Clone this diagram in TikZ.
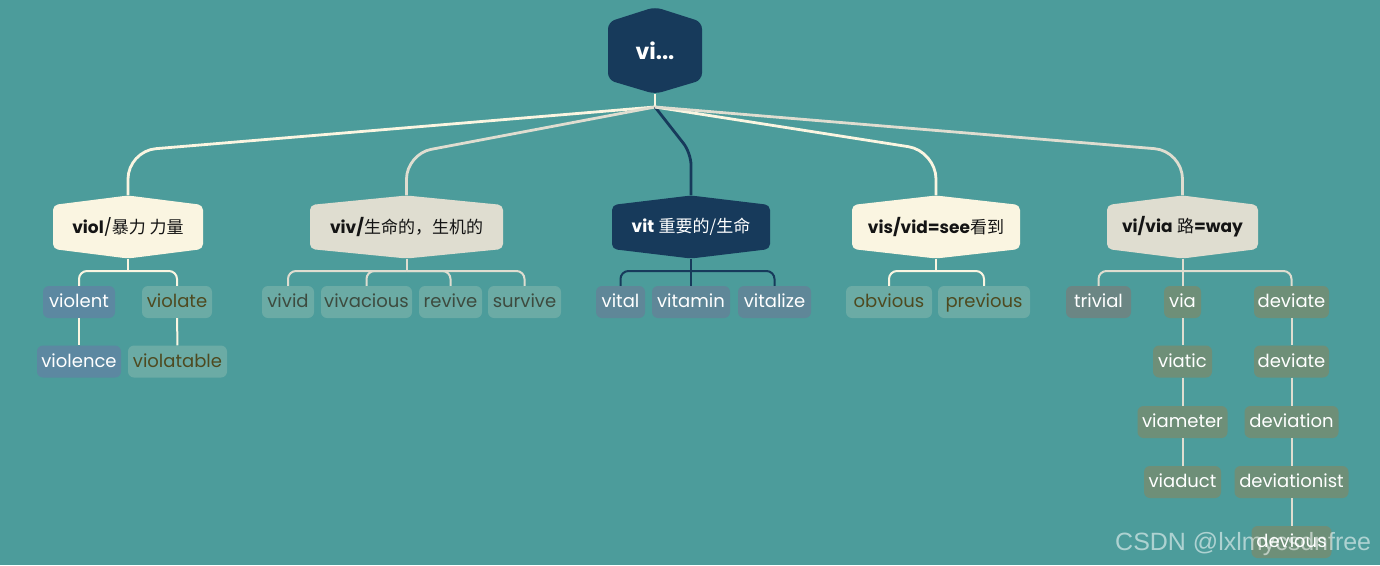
\documentclass[tikz,border=0pt]{standalone}
\usepackage{fontspec}
\setmainfont{Poppins}
\newfontfamily\cjk{Noto Sans CJK SC}
\newfontfamily\wmfont{Liberation Sans}
\usetikzlibrary{calc}
\definecolor{bg}{HTML}{4C9C9B}
\definecolor{navy}{HTML}{173A5B}
\definecolor{cream}{HTML}{FAF5E1}
\definecolor{beige}{HTML}{DFDDD0}
\definecolor{blueleaf}{HTML}{5C88A1}
\definecolor{tealleaf}{HTML}{6BABA5}
\definecolor{olivetxt}{HTML}{4E4A20}
\definecolor{vivtxt}{HTML}{3D4B3F}
\definecolor{vitleaf}{HTML}{5F8798}
\definecolor{trivleaf}{HTML}{6B8684}
\definecolor{greenleaf}{HTML}{6E8F78}
\definecolor{darktxt}{HTML}{141414}
\newcommand\hexfill[3]{%
  \fill[#3, rounded corners=5pt] ({#1-#2},205) -- (#1,195.5) -- ({#1+#2},205) -- ({#1+#2},249) -- (#1,258.5) -- ({#1-#2},249) -- cycle;}
\begin{document}
\begin{tikzpicture}[x=1pt,y=-1pt,
  roottext/.style={inner sep=0pt, text=white, font=\fontsize{22}{26}\selectfont\bfseries},
  lvtwo/.style={inner sep=0pt, minimum height=63pt, text=darktxt, font=\fontsize{17}{20}\selectfont},
  leaf/.style={rounded corners=6pt, inner sep=0pt, minimum height=32pt, text height=15pt, text depth=3.6pt, font=\fontsize{18}{21}\selectfont},
  edge/.style={line width=2.8pt},
  bracket/.style={line width=2pt, rounded corners=8pt},
  chain/.style={line width=2pt},
]
\fill[bg] (0,0) rectangle (1380,565);
\useasboundingbox (0,0) rectangle (1380,565);

% root
\fill[navy, rounded corners=7pt] (608,22) -- (655,7) -- (702,22) -- (702,80) -- (655,94) -- (608,80) -- cycle;
\node[roottext, minimum width=94pt, minimum height=87pt] (root) at (655,50.5) {vi...};
\coordinate (J) at (655,107);

% level 2 shapes
\hexfill{128}{75}{cream}
\hexfill{406.5}{96.5}{beige}
\hexfill{691}{79}{navy}
\hexfill{936}{84}{cream}
\hexfill{1182.5}{75.5}{beige}

\node[lvtwo, minimum width=150pt] (viol) at (128,227) {\textbf{viol}/{\cjk 暴力 力量}};
\node[lvtwo, minimum width=193pt] (viv) at (406.5,227) {\textbf{viv/}{\cjk 生命的，生机的}};
\node[lvtwo, minimum width=158pt, text=white] (vit) at (691,227) {\textbf{vit} {\cjk 重要的/生命}};
\node[lvtwo, minimum width=168pt] (vis) at (936,227) {\textbf{vis/vid=see}{\cjk 看到}};
\node[lvtwo, minimum width=151pt] (via2) at (1182.5,227) {\textbf{vi/via} {\cjk 路}\textbf{=way}};

% level 1 edges
\draw[edge, cream] (root.south) -- (J);
\draw[edge, cream, rounded corners=28pt] (J) -- (128,151) -- (viol.north);
\draw[edge, beige, rounded corners=25pt] (J) -- (406.5,154) -- (viv.north);
\draw[edge, navy, rounded corners=12pt] (J) -- (691,153) -- (vit.north);
\draw[edge, cream, rounded corners=28pt] (J) -- (936,151) -- (vis.north);
\draw[edge, beige, rounded corners=28pt] (J) -- (1182.5,151) -- (via2.north);

% leaves
\node[leaf, fill=blueleaf, text=white, minimum width=72pt] (violent) at (79,302) {violent};
\node[leaf, fill=tealleaf, text=olivetxt, minimum width=70pt] (violate) at (177,302) {violate};
\node[leaf, fill=blueleaf, text=white, minimum width=84pt] (violence) at (79,361.5) {violence};
\node[leaf, fill=tealleaf, text=olivetxt, minimum width=99pt] (violatable) at (177.5,361.5) {violatable};

\node[leaf, fill=tealleaf, text=vivtxt, minimum width=52pt] (vivid) at (288,302) {vivid};
\node[leaf, fill=tealleaf, text=vivtxt, minimum width=91pt] (vivacious) at (366.5,302) {vivacious};
\node[leaf, fill=tealleaf, text=vivtxt, minimum width=63pt] (revive) at (450.5,302) {revive};
\node[leaf, fill=tealleaf, text=vivtxt, minimum width=73pt] (survive) at (524.5,302) {survive};

\node[leaf, fill=vitleaf, text=white, minimum width=49pt] (vital) at (620.5,302) {vital};
\node[leaf, fill=vitleaf, text=white, minimum width=78pt] (vitamin) at (691,302) {vitamin};
\node[leaf, fill=vitleaf, text=white, minimum width=73pt] (vitalize) at (774.5,302) {vitalize};

\node[leaf, fill=tealleaf, text=olivetxt, minimum width=86pt] (obvious) at (889,302) {obvious};
\node[leaf, fill=tealleaf, text=olivetxt, minimum width=92pt] (previous) at (984,302) {previous};

\node[leaf, fill=trivleaf, text=white, minimum width=65pt] (trivial) at (1098.5,302) {trivial};
\node[leaf, fill=greenleaf, text=white, minimum width=37pt] (via) at (1182.5,302) {via};
\node[leaf, fill=greenleaf, text=white, minimum width=75pt] (deviate) at (1291.5,302) {deviate};
\node[leaf, fill=greenleaf, text=white, minimum width=59pt] (viatic) at (1182.5,361.5) {viatic};
\node[leaf, fill=greenleaf, text=white, minimum width=90pt] (viameter) at (1182.5,422) {viameter};
\node[leaf, fill=greenleaf, text=white, minimum width=77pt] (viaduct) at (1182.5,482) {viaduct};
\node[leaf, fill=greenleaf, text=white, minimum width=75pt] (deviateb) at (1291.5,361.5) {deviate};
\node[leaf, fill=greenleaf, text=white, minimum width=94pt] (deviation) at (1291.5,422) {deviation};
\node[leaf, fill=greenleaf, text=white, minimum width=114pt] (deviationist) at (1291.5,482) {deviationist};
\node[leaf, fill=greenleaf, text=white, minimum width=80pt] (devious) at (1291.5,542) {devious};

% brackets
\coordinate (b1) at (128,271);
\draw[chain, cream] (viol.south) -- (b1);
\draw[bracket, cream] (b1) -| (violent.north);
\draw[bracket, cream] (b1) -| (violate.north);

\coordinate (b2) at (406.5,271);
\draw[chain, beige] (viv.south) -- (b2);
\draw[bracket, beige] (b2) -| (vivid.north);
\draw[bracket, beige] (b2) -| (vivacious.north);
\draw[bracket, beige] (b2) -| (revive.north);
\draw[bracket, beige] (b2) -| (survive.north);

\coordinate (b3) at (691,271);
\draw[chain, navy] (vit.south) -- (vitamin.north);
\draw[bracket, navy] (b3) -| (vital.north);
\draw[bracket, navy] (b3) -| (vitalize.north);

\coordinate (b4) at (936,271);
\draw[chain, cream] (vis.south) -- (b4);
\draw[bracket, cream] (b4) -| (obvious.north);
\draw[bracket, cream] (b4) -| (previous.north);

\coordinate (b5) at (1182.5,271);
\draw[chain, beige] (via2.south) -- (via.north);
\draw[bracket, beige] (b5) -| (trivial.north);
\draw[bracket, beige] (b5) -| (deviate.north);

% chains
\draw[chain, cream] (violent) -- (violence);
\draw[chain, cream] (violate) -- (violatable);
\draw[chain, beige] (via) -- (viatic);
\draw[chain, beige] (viatic) -- (viameter);
\draw[chain, beige] (viameter) -- (viaduct);
\draw[chain, beige] (deviate) -- (deviateb);
\draw[chain, beige] (deviateb) -- (deviation);
\draw[chain, beige] (deviation) -- (deviationist);
\draw[chain, beige] (deviationist) -- (devious);

% watermark
\node[anchor=base west, inner sep=0pt, text=white, text opacity=0.55, font=\wmfont\fontsize{25}{28}\selectfont] (wm) at (1115,550) {CSDN @lxlmycsdnfree};
\end{tikzpicture}
\end{document}
